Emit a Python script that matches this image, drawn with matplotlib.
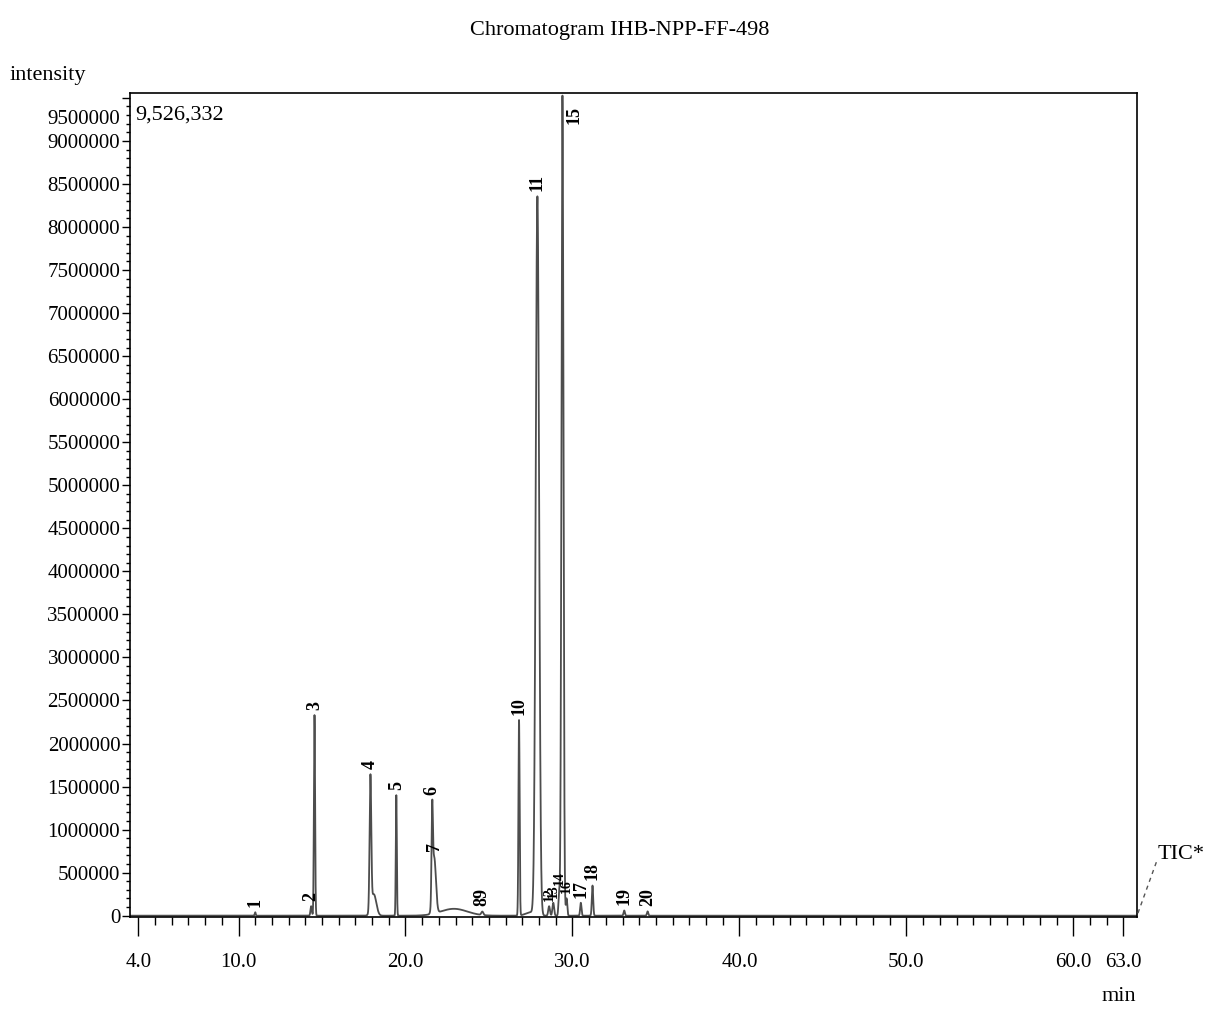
import numpy as np
import matplotlib
matplotlib.use("Agg")
import matplotlib.pyplot as plt
from matplotlib.ticker import MultipleLocator
import matplotlib.transforms as mtransforms

plt.rcParams['font.family'] = ['Liberation Serif', 'DejaVu Serif']

# peak table: label, retention time (min), height, sigma (min)
peak_labels = ["1", "2", "3", "4", "5", "6", "7", "89", "10", "11",
               "12", "13", "14", "15", "16", "17", "18", "19", "20"]
peak_rt = [11.0, 14.35, 14.55, 17.9, 19.45, 21.6, 21.72, 24.6, 26.8, 27.9,
           28.6, 28.85, 29.2, 29.4, 29.65, 30.5, 31.2, 33.1, 34.5]
peak_height = [40000, 110000, 2330000, 1540000, 1400000, 1000000, 650000, 40000, 2270000, 8340000,
               110000, 150000, 260000, 9526332, 200000, 150000, 350000, 60000, 50000]
peak_sigma = [0.03, 0.04, 0.035, 0.05, 0.03, 0.04, 0.1, 0.06, 0.035, 0.1,
              0.05, 0.05, 0.04, 0.06, 0.04, 0.04, 0.04, 0.04, 0.04]

# unlabelled humps: tailing of peak 4 and the broad tail after peak 6/7
hump_rt = [18.1, 22.9, 27.5]
hump_height = [250000, 80000, 40000]
hump_sigma = [0.15, 0.8, 0.3]

max_intensity = 9526332
x_ticks = [4.0, 10.0, 20.0, 30.0, 40.0, 50.0, 60.0, 63.0]
y_ticks = list(range(0, 9500001, 500000))

t = np.arange(3.5, 63.8, 0.002)
signal = np.zeros_like(t)
for rt, h, s in zip(peak_rt + hump_rt, peak_height + hump_height, peak_sigma + hump_sigma):
    signal += h * np.exp(-0.5 * ((t - rt) / s) ** 2)

fig = plt.figure(figsize=(12.08, 10.09), dpi=100)
ax = fig.add_axes([0.1076, 0.0912, 0.8335, 0.8166])
ax.plot(t, signal, color="#4d4d4d", lw=1.3)

ax.set_xlim(3.5, 63.8)
ax.set_ylim(-15000, max_intensity + 30000)

ax.set_xticks(x_ticks)
ax.set_xticklabels([f"{v:.1f}" for v in x_ticks])
ax.xaxis.set_minor_locator(MultipleLocator(1.0))
ax.set_yticks(y_ticks)
ax.set_yticklabels([str(v) for v in y_ticks])
ax.yaxis.set_minor_locator(MultipleLocator(100000))
ax.tick_params(axis="x", which="major", direction="out", length=14, width=1, labelsize=15, pad=12)
ax.tick_params(axis="x", which="minor", direction="out", length=6, width=1)
ax.tick_params(axis="y", which="major", direction="out", length=6, width=1, labelsize=15, pad=1)
ax.tick_params(axis="y", which="minor", direction="out", length=3, width=1)
for sp in ax.spines.values():
    sp.set_linewidth(1.2)

# the top label is printed a little lower than its tick, as in the original
top_lbl = ax.get_yticklabels()[-1]
top_lbl.set_transform(top_lbl.get_transform() +
                      mtransforms.ScaledTranslation(0, -14 / 72, fig.dpi_scale_trans))

# peak numbers, rotated, sitting just above the trace
cluster = {"12", "13", "14", "16"}
for lbl, rt in zip(peak_labels, peak_rt):
    top = np.interp(rt, t, signal)
    if lbl == "15":
        ax.text(rt + 0.7, max_intensity - 120000, lbl, rotation=90, ha="center", va="top",
                fontsize=13, fontweight="bold")
    else:
        ax.text(rt, top + 60000, lbl, rotation=90, ha="center", va="bottom",
                fontsize=10 if lbl in cluster else 13, fontweight="bold")

ax.text(0.005, 0.985, "9,526,332", transform=ax.transAxes, ha="left", va="top", fontsize=16)

fig.text(0.513, 0.97, "Chromatogram IHB-NPP-FF-498", ha="center", va="center", fontsize=16)
fig.text(0.008, 0.925, "intensity", ha="left", va="center", fontsize=16)
fig.text(0.926, 0.012, "min", ha="center", va="center", fontsize=16)

# TIC* tag with dashed leader from the axes corner
fig.add_artist(plt.Line2D([0.942, 0.958], [0.095, 0.148], transform=fig.transFigure,
                          color="#555555", lw=1, ls=(0, (3, 3))))
fig.text(0.958, 0.153, "TIC*", ha="left", va="center", fontsize=16)

fig.savefig("out.png", dpi=100)
